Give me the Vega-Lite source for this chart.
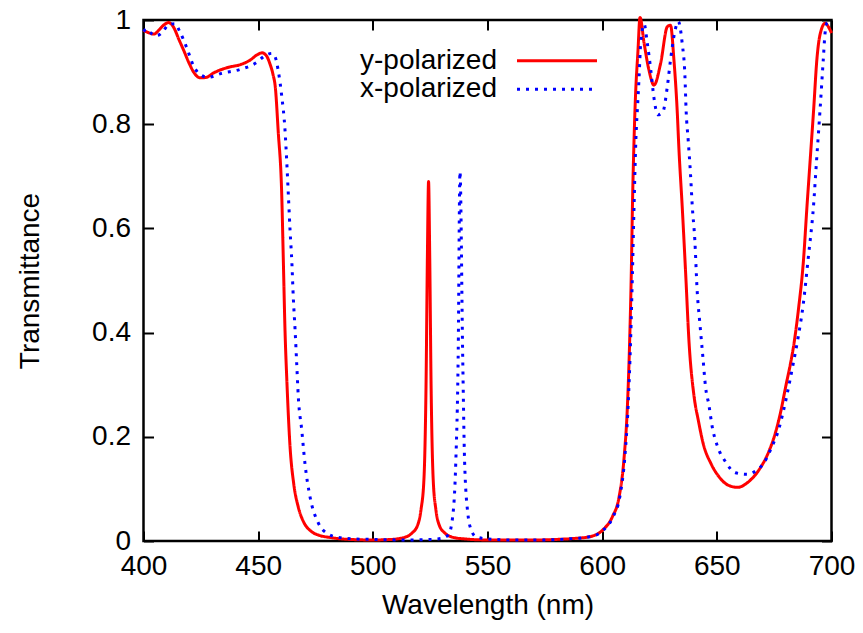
{
  "$schema": "https://vega.github.io/schema/vega-lite/v6.json",
  "width": 688,
  "height": 521,
  "autosize": {"type": "none"},
  "padding": {"left": 143.5, "top": 20, "right": 31.5, "bottom": 92},
  "background": "white",
  "config": {
    "view": {"stroke": "black", "strokeWidth": 2.5},
    "font": "Liberation Sans",
    "axis": {
      "domain": false,
      "grid": false,
      "tickColor": "black",
      "tickWidth": 2,
      "tickSize": -10,
      "labelColor": "black",
      "labelFont": "Liberation Sans",
      "labelFontSize": 28,
      "titleFont": "Liberation Sans",
      "titleFontSize": 28,
      "titleFontWeight": "normal",
      "titleColor": "black"
    }
  },
  "data": {
    "values": [
      {"w":400,"t":0.980,"s":"y-polarized"},{"w":402,"t":0.976,"s":"y-polarized"},{"w":404.5,"t":0.973,"s":"y-polarized"},{"w":407,"t":0.982,"s":"y-polarized"},{"w":409,"t":0.991,"s":"y-polarized"},{"w":411,"t":0.995,"s":"y-polarized"},{"w":413,"t":0.987,"s":"y-polarized"},{"w":415.5,"t":0.962,"s":"y-polarized"},{"w":417.5,"t":0.942,"s":"y-polarized"},{"w":420,"t":0.916,"s":"y-polarized"},{"w":422,"t":0.899,"s":"y-polarized"},{"w":424.8,"t":0.889,"s":"y-polarized"},{"w":427.5,"t":0.890,"s":"y-polarized"},{"w":430.4,"t":0.898,"s":"y-polarized"},{"w":434,"t":0.905,"s":"y-polarized"},{"w":437.8,"t":0.910,"s":"y-polarized"},{"w":442,"t":0.914,"s":"y-polarized"},{"w":446.5,"t":0.923,"s":"y-polarized"},{"w":449.5,"t":0.933,"s":"y-polarized"},{"w":451.7,"t":0.937,"s":"y-polarized"},{"w":453.5,"t":0.932,"s":"y-polarized"},{"w":455.2,"t":0.915,"s":"y-polarized"},{"w":456.5,"t":0.895,"s":"y-polarized"},{"w":457.5,"t":0.870,"s":"y-polarized"},{"w":458.7,"t":0.789,"s":"y-polarized"},{"w":460.3,"t":0.661,"s":"y-polarized"},{"w":461,"t":0.534,"s":"y-polarized"},{"w":461.7,"t":0.405,"s":"y-polarized"},{"w":462.5,"t":0.309,"s":"y-polarized"},{"w":463.9,"t":0.181,"s":"y-polarized"},{"w":465.5,"t":0.110,"s":"y-polarized"},{"w":467.5,"t":0.065,"s":"y-polarized"},{"w":470,"t":0.035,"s":"y-polarized"},{"w":473,"t":0.019,"s":"y-polarized"},{"w":476.5,"t":0.011,"s":"y-polarized"},{"w":481,"t":0.007,"s":"y-polarized"},{"w":490,"t":0.003,"s":"y-polarized"},{"w":500,"t":0.002,"s":"y-polarized"},{"w":508,"t":0.003,"s":"y-polarized"},{"w":513,"t":0.006,"s":"y-polarized"},{"w":517,"t":0.015,"s":"y-polarized"},{"w":519.5,"t":0.030,"s":"y-polarized"},{"w":521,"t":0.060,"s":"y-polarized"},{"w":522.3,"t":0.120,"s":"y-polarized"},{"w":523.2,"t":0.300,"s":"y-polarized"},{"w":523.8,"t":0.550,"s":"y-polarized"},{"w":524.3,"t":0.690,"s":"y-polarized"},{"w":524.8,"t":0.550,"s":"y-polarized"},{"w":525.4,"t":0.300,"s":"y-polarized"},{"w":526.3,"t":0.120,"s":"y-polarized"},{"w":527.5,"t":0.060,"s":"y-polarized"},{"w":529,"t":0.030,"s":"y-polarized"},{"w":531.5,"t":0.015,"s":"y-polarized"},{"w":535,"t":0.007,"s":"y-polarized"},{"w":540,"t":0.004,"s":"y-polarized"},{"w":550,"t":0.002,"s":"y-polarized"},{"w":570,"t":0.002,"s":"y-polarized"},{"w":580,"t":0.003,"s":"y-polarized"},{"w":588,"t":0.005,"s":"y-polarized"},{"w":594.3,"t":0.008,"s":"y-polarized"},{"w":600.2,"t":0.021,"s":"y-polarized"},{"w":604.5,"t":0.047,"s":"y-polarized"},{"w":607.4,"t":0.085,"s":"y-polarized"},{"w":609.6,"t":0.162,"s":"y-polarized"},{"w":611,"t":0.258,"s":"y-polarized"},{"w":612,"t":0.386,"s":"y-polarized"},{"w":612.7,"t":0.514,"s":"y-polarized"},{"w":613.2,"t":0.642,"s":"y-polarized"},{"w":613.9,"t":0.770,"s":"y-polarized"},{"w":614.5,"t":0.850,"s":"y-polarized"},{"w":615.6,"t":0.940,"s":"y-polarized"},{"w":616.5,"t":1.005,"s":"y-polarized"},{"w":618.3,"t":0.955,"s":"y-polarized"},{"w":620.4,"t":0.904,"s":"y-polarized"},{"w":622.6,"t":0.875,"s":"y-polarized"},{"w":625.5,"t":0.917,"s":"y-polarized"},{"w":628.4,"t":0.987,"s":"y-polarized"},{"w":629.8,"t":0.990,"s":"y-polarized"},{"w":631.3,"t":0.923,"s":"y-polarized"},{"w":632.7,"t":0.827,"s":"y-polarized"},{"w":633.5,"t":0.750,"s":"y-polarized"},{"w":634.9,"t":0.642,"s":"y-polarized"},{"w":636.4,"t":0.514,"s":"y-polarized"},{"w":637.9,"t":0.380,"s":"y-polarized"},{"w":640,"t":0.280,"s":"y-polarized"},{"w":642,"t":0.230,"s":"y-polarized"},{"w":644,"t":0.188,"s":"y-polarized"},{"w":647.5,"t":0.148,"s":"y-polarized"},{"w":651,"t":0.123,"s":"y-polarized"},{"w":655,"t":0.107,"s":"y-polarized"},{"w":659,"t":0.103,"s":"y-polarized"},{"w":663.9,"t":0.114,"s":"y-polarized"},{"w":668.3,"t":0.136,"s":"y-polarized"},{"w":672.6,"t":0.171,"s":"y-polarized"},{"w":675.5,"t":0.207,"s":"y-polarized"},{"w":677.7,"t":0.245,"s":"y-polarized"},{"w":680.2,"t":0.300,"s":"y-polarized"},{"w":682,"t":0.338,"s":"y-polarized"},{"w":683.5,"t":0.375,"s":"y-polarized"},{"w":685.6,"t":0.445,"s":"y-polarized"},{"w":687.8,"t":0.540,"s":"y-polarized"},{"w":689.2,"t":0.635,"s":"y-polarized"},{"w":690.7,"t":0.731,"s":"y-polarized"},{"w":692.2,"t":0.827,"s":"y-polarized"},{"w":693.6,"t":0.923,"s":"y-polarized"},{"w":695.1,"t":0.974,"s":"y-polarized"},{"w":697.3,"t":0.994,"s":"y-polarized"},{"w":698.5,"t":0.988,"s":"y-polarized"},{"w":700,"t":0.975,"s":"y-polarized"},

      {"w":400,"t":0.978,"s":"x-polarized"},{"w":401.5,"t":0.983,"s":"x-polarized"},{"w":403,"t":0.976,"s":"x-polarized"},{"w":405,"t":0.970,"s":"x-polarized"},{"w":407,"t":0.972,"s":"x-polarized"},{"w":408.5,"t":0.978,"s":"x-polarized"},{"w":410.7,"t":0.990,"s":"x-polarized"},{"w":413.7,"t":0.993,"s":"x-polarized"},{"w":416,"t":0.976,"s":"x-polarized"},{"w":419,"t":0.945,"s":"x-polarized"},{"w":421.7,"t":0.913,"s":"x-polarized"},{"w":424,"t":0.898,"s":"x-polarized"},{"w":428,"t":0.890,"s":"x-polarized"},{"w":434.3,"t":0.898,"s":"x-polarized"},{"w":442,"t":0.905,"s":"x-polarized"},{"w":449.5,"t":0.919,"s":"x-polarized"},{"w":452.5,"t":0.930,"s":"x-polarized"},{"w":456,"t":0.936,"s":"x-polarized"},{"w":457.5,"t":0.928,"s":"x-polarized"},{"w":458.7,"t":0.904,"s":"x-polarized"},{"w":460.3,"t":0.853,"s":"x-polarized"},{"w":461.7,"t":0.789,"s":"x-polarized"},{"w":462.5,"t":0.725,"s":"x-polarized"},{"w":463.2,"t":0.661,"s":"x-polarized"},{"w":463.9,"t":0.597,"s":"x-polarized"},{"w":464.7,"t":0.534,"s":"x-polarized"},{"w":465.3,"t":0.469,"s":"x-polarized"},{"w":466.1,"t":0.405,"s":"x-polarized"},{"w":466.8,"t":0.341,"s":"x-polarized"},{"w":467.5,"t":0.277,"s":"x-polarized"},{"w":469,"t":0.213,"s":"x-polarized"},{"w":470.4,"t":0.149,"s":"x-polarized"},{"w":472.6,"t":0.085,"s":"x-polarized"},{"w":476.2,"t":0.035,"s":"x-polarized"},{"w":479.9,"t":0.015,"s":"x-polarized"},{"w":485,"t":0.007,"s":"x-polarized"},{"w":492,"t":0.004,"s":"x-polarized"},{"w":500,"t":0.003,"s":"x-polarized"},{"w":515,"t":0.002,"s":"x-polarized"},{"w":525,"t":0.003,"s":"x-polarized"},{"w":530,"t":0.005,"s":"x-polarized"},{"w":533,"t":0.012,"s":"x-polarized"},{"w":535,"t":0.054,"s":"x-polarized"},{"w":536.2,"t":0.155,"s":"x-polarized"},{"w":537.2,"t":0.350,"s":"x-polarized"},{"w":538,"t":0.709,"s":"x-polarized"},{"w":539.2,"t":0.350,"s":"x-polarized"},{"w":540,"t":0.155,"s":"x-polarized"},{"w":541.4,"t":0.054,"s":"x-polarized"},{"w":543,"t":0.020,"s":"x-polarized"},{"w":545,"t":0.008,"s":"x-polarized"},{"w":550,"t":0.004,"s":"x-polarized"},{"w":560,"t":0.002,"s":"x-polarized"},{"w":575,"t":0.002,"s":"x-polarized"},{"w":585,"t":0.004,"s":"x-polarized"},{"w":594.5,"t":0.008,"s":"x-polarized"},{"w":600.5,"t":0.021,"s":"x-polarized"},{"w":604.8,"t":0.047,"s":"x-polarized"},{"w":607.7,"t":0.085,"s":"x-polarized"},{"w":609.9,"t":0.162,"s":"x-polarized"},{"w":611.3,"t":0.258,"s":"x-polarized"},{"w":612.4,"t":0.386,"s":"x-polarized"},{"w":613.2,"t":0.514,"s":"x-polarized"},{"w":613.9,"t":0.642,"s":"x-polarized"},{"w":614.7,"t":0.770,"s":"x-polarized"},{"w":615.5,"t":0.840,"s":"x-polarized"},{"w":616.1,"t":0.891,"s":"x-polarized"},{"w":616.8,"t":0.955,"s":"x-polarized"},{"w":618.3,"t":0.992,"s":"x-polarized"},{"w":619.7,"t":0.955,"s":"x-polarized"},{"w":621.2,"t":0.904,"s":"x-polarized"},{"w":622.6,"t":0.850,"s":"x-polarized"},{"w":624.3,"t":0.818,"s":"x-polarized"},{"w":626.5,"t":0.824,"s":"x-polarized"},{"w":628.4,"t":0.872,"s":"x-polarized"},{"w":629.8,"t":0.923,"s":"x-polarized"},{"w":631.7,"t":0.978,"s":"x-polarized"},{"w":633.2,"t":0.997,"s":"x-polarized"},{"w":634.9,"t":0.955,"s":"x-polarized"},{"w":636.1,"t":0.891,"s":"x-polarized"},{"w":636.6,"t":0.827,"s":"x-polarized"},{"w":637.5,"t":0.770,"s":"x-polarized"},{"w":638.5,"t":0.706,"s":"x-polarized"},{"w":639.3,"t":0.642,"s":"x-polarized"},{"w":640.4,"t":0.578,"s":"x-polarized"},{"w":641.4,"t":0.482,"s":"x-polarized"},{"w":642.6,"t":0.418,"s":"x-polarized"},{"w":643.9,"t":0.354,"s":"x-polarized"},{"w":645.1,"t":0.295,"s":"x-polarized"},{"w":646.5,"t":0.262,"s":"x-polarized"},{"w":648,"t":0.219,"s":"x-polarized"},{"w":650.1,"t":0.184,"s":"x-polarized"},{"w":653.8,"t":0.152,"s":"x-polarized"},{"w":658.1,"t":0.131,"s":"x-polarized"},{"w":663.2,"t":0.128,"s":"x-polarized"},{"w":667.1,"t":0.135,"s":"x-polarized"},{"w":670.4,"t":0.149,"s":"x-polarized"},{"w":674,"t":0.181,"s":"x-polarized"},{"w":676.9,"t":0.213,"s":"x-polarized"},{"w":679.1,"t":0.251,"s":"x-polarized"},{"w":681.5,"t":0.300,"s":"x-polarized"},{"w":683.2,"t":0.338,"s":"x-polarized"},{"w":685.5,"t":0.392,"s":"x-polarized"},{"w":687.7,"t":0.455,"s":"x-polarized"},{"w":689.9,"t":0.545,"s":"x-polarized"},{"w":692.1,"t":0.640,"s":"x-polarized"},{"w":693.5,"t":0.731,"s":"x-polarized"},{"w":695,"t":0.827,"s":"x-polarized"},{"w":696.4,"t":0.923,"s":"x-polarized"},{"w":697.2,"t":0.975,"s":"x-polarized"},{"w":698.2,"t":0.995,"s":"x-polarized"},{"w":700,"t":0.990,"s":"x-polarized"}
    ]
  },
  "layer": [
    {
      "mark": {"type": "line", "clip": false, "strokeWidth": 3, "interpolate": "monotone", "strokeCap": "butt"},
      "encoding": {
        "x": {
          "field": "w", "type": "quantitative",
          "scale": {"domain": [400, 700], "nice": false, "zero": false},
          "axis": {"orient": "bottom", "values": [400, 450, 500, 550, 600, 650, 700], "labelPadding": 21, "title": "Wavelength (nm)", "titlePadding": 11, "labelFlush": false}
        },
        "y": {
          "field": "t", "type": "quantitative",
          "scale": {"domain": [0, 1], "nice": false, "zero": false},
          "axis": {"orient": "left", "values": [0, 0.2, 0.4, 0.6, 0.8, 1], "format": "~g", "labelPadding": 23, "title": "Transmittance", "titlePadding": 47, "labelFlush": false}
        },
        "color": {
          "field": "s", "type": "nominal",
          "scale": {"domain": ["y-polarized", "x-polarized"], "range": ["#ff0000", "#0000ff"]},
          "legend": {"orient": "none", "legendX": 399.5, "legendY": 26.7, "title": null, "symbolType": "M-5,0L5,0", "symbolSize": 256, "symbolStrokeWidth": 3, "labelAlign": "right", "labelOffset": -74, "labelFontSize": 28, "labelColor": "black", "labelFont": "Liberation Sans", "rowPadding": 0.6, "labelLimit": 300}
        },
        "strokeDash": {
          "field": "s", "type": "nominal",
          "scale": {"domain": ["y-polarized", "x-polarized"], "range": [[1, 0], [3, 6]]},
          "legend": {"orient": "none", "legendX": 399.5, "legendY": 26.7, "title": null, "symbolType": "M-5,0L5,0", "symbolSize": 256, "symbolStrokeWidth": 3, "labelAlign": "right", "labelOffset": -74, "labelFontSize": 28, "labelColor": "black", "labelFont": "Liberation Sans", "rowPadding": 0.6, "labelLimit": 300}
        }
      }
    },
    {
      "mark": {"type": "point", "opacity": 0},
      "encoding": {
        "x": {"field": "w", "type": "quantitative", "axis": {"orient": "top", "values": [400, 450, 500, 550, 600, 650, 700], "labels": false, "title": null}},
        "y": {"field": "t", "type": "quantitative", "axis": {"orient": "right", "values": [0, 0.2, 0.4, 0.6, 0.8, 1], "labels": false, "title": null}}
      }
    }
  ],
  "resolve": {"axis": {"x": "independent", "y": "independent"}}
}
